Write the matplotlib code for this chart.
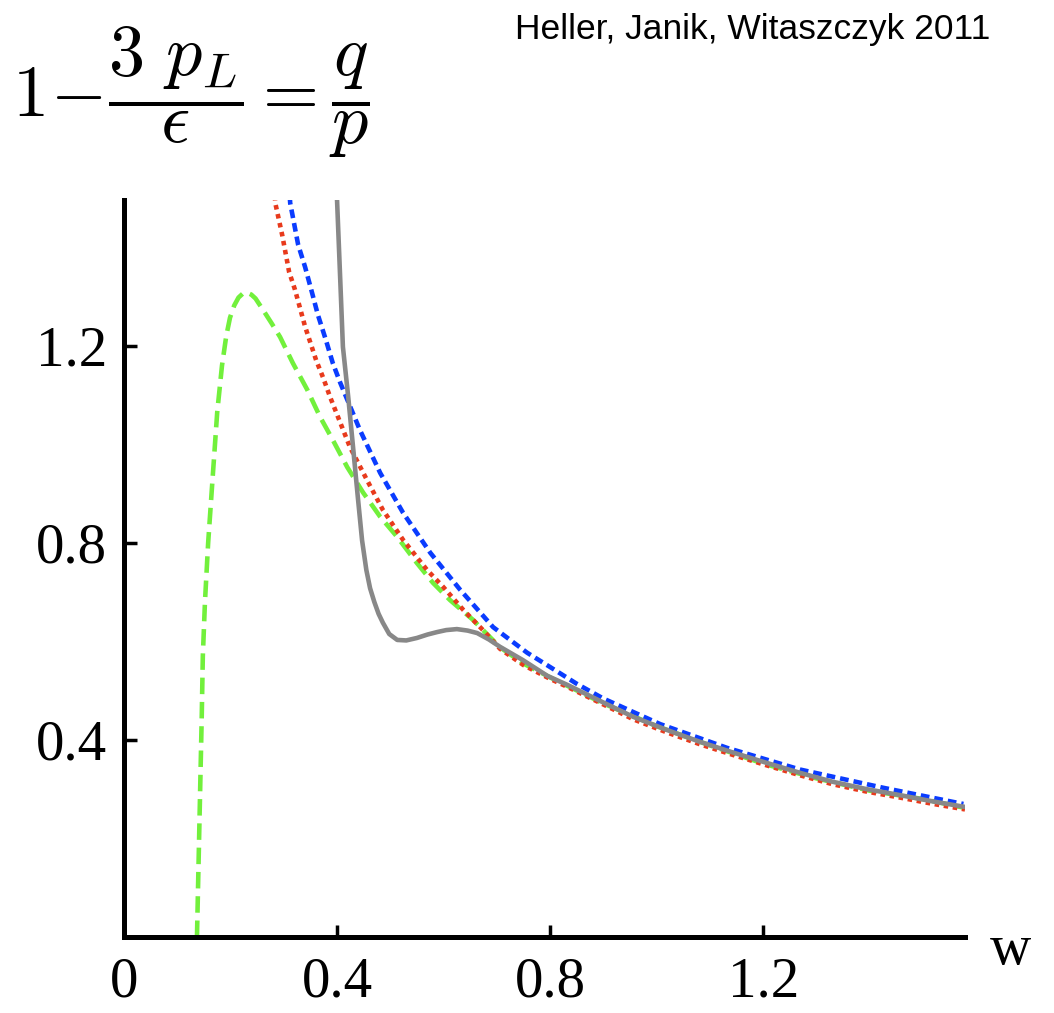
import numpy as np
import matplotlib.pyplot as plt

plt.rcParams["mathtext.fontset"] = "cm"

# curves (x = w, y = 1 - 3 p_L / eps)
grey_x = [0.397, 0.400, 0.406, 0.411, 0.421, 0.430, 0.439, 0.447, 0.455, 0.462, 0.470,
          0.478, 0.486, 0.498, 0.513, 0.530, 0.550, 0.570, 0.588, 0.605, 0.625, 0.645,
          0.663, 0.685, 0.706, 0.749, 0.795, 0.832, 0.900, 0.956, 1.020, 1.082, 1.145,
          1.208, 1.270, 1.331, 1.395, 1.457, 1.520, 1.579]
grey_y = [1.56, 1.496, 1.334, 1.198, 1.096, 0.995, 0.893, 0.805, 0.745, 0.708, 0.680,
          0.656, 0.638, 0.615, 0.603, 0.602, 0.607, 0.614, 0.619, 0.623, 0.625, 0.622,
          0.617, 0.604, 0.589, 0.562, 0.530, 0.512, 0.476, 0.447, 0.420, 0.396, 0.374,
          0.353, 0.333, 0.315, 0.300, 0.288, 0.275, 0.264]

red_x = [0.280, 0.284, 0.297, 0.310, 0.321, 0.340, 0.361, 0.374, 0.387, 0.424, 0.456,
         0.486, 0.524, 0.569, 0.599, 0.637, 0.674, 0.706, 0.750, 0.800, 0.832, 0.900,
         0.956, 1.020, 1.082, 1.145, 1.208, 1.270, 1.331, 1.395, 1.457, 1.520, 1.579]
red_y = [1.56, 1.490, 1.425, 1.350, 1.314, 1.239, 1.170, 1.135, 1.096, 0.995, 0.928,
         0.867, 0.806, 0.745, 0.711, 0.664, 0.623, 0.585, 0.552, 0.524, 0.508, 0.472,
         0.442, 0.415, 0.391, 0.369, 0.348, 0.328, 0.310, 0.295, 0.283, 0.270, 0.259]

blue_x = [0.308, 0.312, 0.327, 0.340, 0.353, 0.364, 0.379, 0.392, 0.406, 0.443, 0.481,
          0.524, 0.575, 0.631, 0.693, 0.757, 0.800, 0.850, 0.900, 1.007, 1.132, 1.269,
          1.425, 1.576]
blue_y = [1.56, 1.490, 1.405, 1.360, 1.308, 1.263, 1.212, 1.165, 1.125, 1.029, 0.942,
          0.861, 0.780, 0.705, 0.629, 0.577, 0.548, 0.514, 0.484, 0.432, 0.384, 0.340,
          0.303, 0.270]

green_x = [0.137, 0.139, 0.141, 0.143, 0.146, 0.148, 0.152, 0.158, 0.165, 0.175, 0.184,
           0.192, 0.199, 0.207, 0.215, 0.223, 0.231, 0.239, 0.247, 0.261, 0.277, 0.293,
           0.317, 0.344, 0.368, 0.392, 0.419, 0.449, 0.481, 0.513, 0.550, 0.580, 0.612,
           0.655, 0.674, 0.706, 0.750, 0.800, 0.900, 1.000, 1.100, 1.200, 1.300, 1.400,
           1.500, 1.579]
green_y = [0.0, 0.10, 0.20, 0.30, 0.45, 0.57, 0.68, 0.80, 0.91, 1.065, 1.160,
           1.220, 1.257, 1.282, 1.298, 1.306, 1.308, 1.304, 1.296, 1.273, 1.246, 1.218,
           1.165, 1.111, 1.056, 1.009, 0.954, 0.902, 0.853, 0.812, 0.759, 0.719, 0.684,
           0.644, 0.623, 0.588, 0.555, 0.527, 0.474, 0.428, 0.389, 0.352, 0.322, 0.297,
           0.280, 0.262]

xticks = [0, 0.4, 0.8, 1.2]
yticks = [0.4, 0.8, 1.2]

fig = plt.figure(figsize=(10.54, 10.13), dpi=100)
ax = fig.add_axes([124 / 1054, 76 / 1013, 841 / 1054, 737 / 1013])

lw = 3.3
ax.plot(green_x, green_y, color="#72f03c", lw=lw, dashes=(3.6, 1.7))
ax.plot(red_x, red_y, color="#e83a1c", lw=lw, dashes=(1.0, 1.0))
ax.plot(blue_x, blue_y, color="#0a3cff", lw=lw, dashes=(1.9, 1.1))
ax.plot(grey_x, grey_y, color="#888888", lw=lw, solid_capstyle="round")

ax.set_xlim(0, 1.579)
ax.set_ylim(0, 1.496)

for s in ["top", "right"]:
    ax.spines[s].set_visible(False)
for s in ["left", "bottom"]:
    ax.spines[s].set_linewidth(3.6)
    ax.spines[s].set_color("black")

ax.set_xticks(xticks)
ax.set_xticklabels(["0", "0.4", "0.8", "1.2"])
ax.set_yticks(yticks)
ax.set_yticklabels(["0.4", "0.8", "1.2"])
ax.tick_params(direction="in", length=9, width=2.5, color="black", pad=12,
               labelsize=41)
ax.tick_params(axis="x", pad=14)
for lab in ax.get_xticklabels() + ax.get_yticklabels():
    lab.set_family("Liberation Serif")
# no tick at the origin
ax.xaxis.get_major_ticks()[0].tick1line.set_visible(False)

fig.text(990 / 1054, 1 - 950 / 1013, "w", family="Liberation Serif", fontsize=41,
         ha="left", va="center")

fig.text(12 / 1054, 1 - 92 / 1013, r"$1\!-\!\dfrac{3\ p_L}{\epsilon} = \dfrac{q}{p}$",
         fontsize=52, ha="left", va="center")
fig.text(515 / 1054, 1 - 30 / 1013, "Heller, Janik, Witaszczyk 2011",
         family="Liberation Sans", fontsize=25.5, ha="left", va="center")

fig.savefig("out.png", dpi=100)
